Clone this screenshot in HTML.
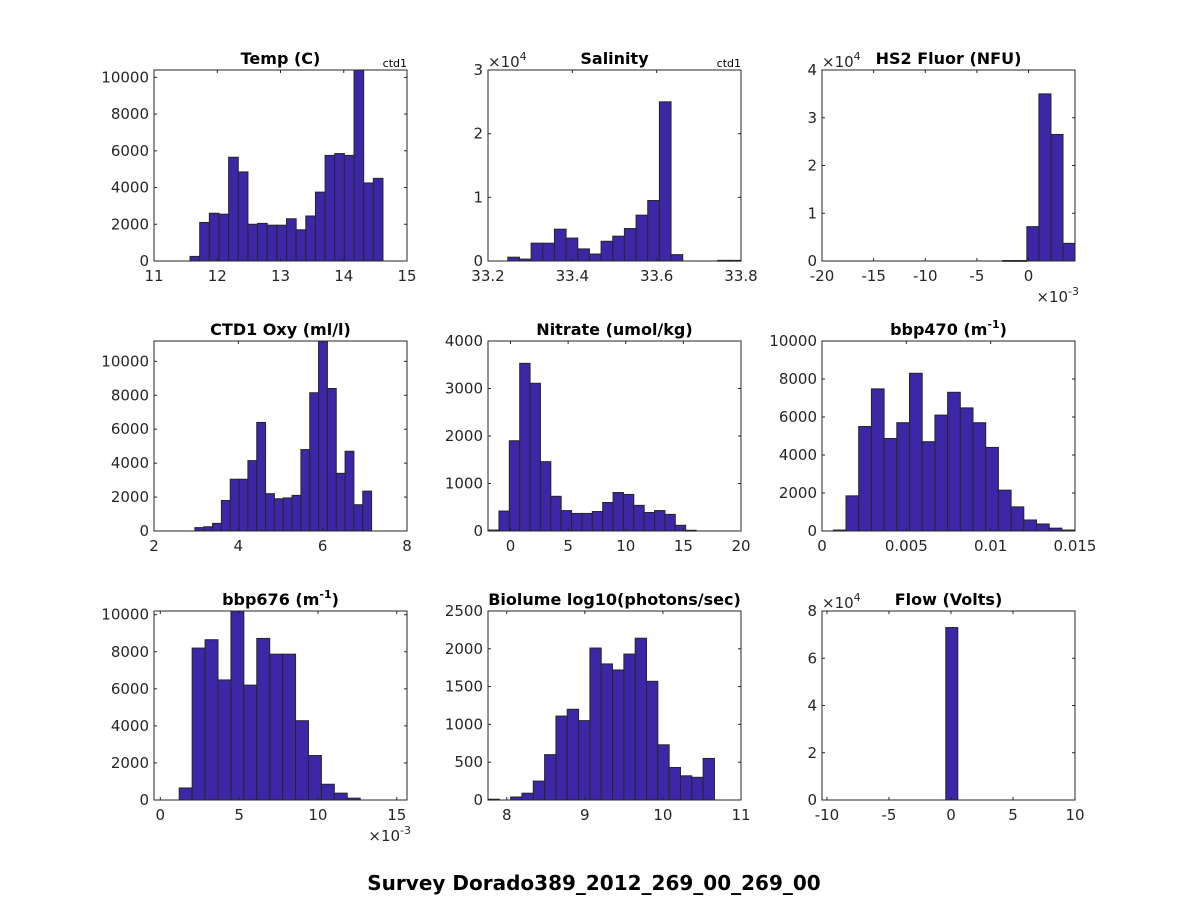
<!DOCTYPE html>
<html><head><meta charset="utf-8">
<style>
html,body{margin:0;padding:0;background:#fff;}
svg{display:block;font-family:"DejaVu Sans","Liberation Sans",sans-serif;}
</style></head>
<body>
<svg id="fig" width="1188" height="900" viewBox="0 0 1188 900">
<text x="594" y="890" text-anchor="middle" font-size="20" font-weight="bold" fill="#000">Survey Dorado389_2012_269_00_269_00</text>
</svg>
<script>
// ---- data arrays ----
const tempStart = 11.57, tempWidth = 0.1525;
const tempCounts = [250,2100,2600,2550,5650,4850,2000,2050,1950,1950,2300,1700,2450,3750,5750,5850,5750,10400,4250,4500];
const tempXTicks = [11,12,13,14,15];
const tempYTicks = [0,2000,4000,6000,8000,10000];

const salStart = 33.247, salWidth = 0.02765;
const salCounts = [600,300,2800,2800,5000,3600,1900,1100,3100,3900,5100,7200,9500,25000,1000,0,0,0,100,100];
const salXTicks = [33.2,33.4,33.6,33.8];
const salYTicks = [0,10000,20000,30000];
const salYLabels = ["0","1","2","3"];

const fluorStart = -2.5, fluorWidth = 1.168;
const fluorCounts = [100,100,7200,35000,26500,3700];
const fluorXTicks = [-20,-15,-10,-5,0];
const fluorYTicks = [0,10000,20000,30000,40000];
const fluorYLabels = ["0","1","2","3","4"];

const oxyStart = 2.97, oxyWidth = 0.2095;
const oxyCounts = [200,250,450,1800,3050,3050,4150,6400,2200,1900,1950,2100,4800,8150,11200,8400,3400,4700,1550,2350];
const oxyXTicks = [2,4,6,8];
const oxyYTicks = [0,2000,4000,6000,8000,10000];

const nitStart = -1.9, nitWidth = 0.9;
const nitCounts = [20,420,1900,3530,3110,1460,730,430,370,370,410,600,810,770,540,390,430,350,120,15];
const nitXTicks = [0,5,10,15,20];
const nitYTicks = [0,1000,2000,3000,4000];

const b470Start = 0.00067, b470Width = 0.000753;
const b470Counts = [50,1850,5500,7480,4870,5700,8300,4700,6100,7300,6480,5700,4400,2150,1270,580,370,150,50];
const b470XTicks = [0,0.005,0.01,0.015];
const b470XLabels = ["0","0.005","0.01","0.015"];
const b470YTicks = [0,2000,4000,6000,8000,10000];

const b676Start = 1.2, b676Width = 0.82;
const b676Counts = [650,8200,8650,6480,10200,6200,8720,7870,7870,4280,2400,850,370,100];
const b676XTicks = [0,5,10,15];
const b676YTicks = [0,2000,4000,6000,8000,10000];

const bioStart = 7.76, bioWidth = 0.145;
const bioCounts = [10,0,40,90,250,600,1110,1200,1050,2010,1800,1720,1930,2140,1570,730,430,320,300,550];
const bioXTicks = [8,9,10,11];
const bioYTicks = [0,500,1000,1500,2000,2500];

const flowStart = -0.42, flowWidth = 0.97;
const flowCounts = [73000];
const flowXTicks = [-10,-5,0,5,10];
const flowYTicks = [0,20000,40000,60000,80000];
const flowYLabels = ["0","2","4","6","8"];

// ---- layout ----
const cols = [[154,407],[488,741],[822,1075]];
const rows = [[70,261],[341,531],[611,800]];
const NS = "http://www.w3.org/2000/svg";
const svg = document.getElementById('fig');

function mk(tag, attrs, parent){
  const e = document.createElementNS(NS, tag);
  for (const k in attrs) e.setAttribute(k, attrs[k]);
  (parent||svg).appendChild(e);
  return e;
}

function panel(o){
  const [x0,x1] = cols[o.c], [y0,y1] = rows[o.r];
  const g = mk('g', {});
  
  
  const sx = v => x0 + (v - o.xlim[0]) / (o.xlim[1]-o.xlim[0]) * (x1-x0);
  const sy = v => y1 - (v - o.ylim[0]) / (o.ylim[1]-o.ylim[0]) * (y1-y0);
  o.counts.forEach((c,i)=>{
    if (c <= 0) return;
    const a = o.start + i*o.width, b = a + o.width;
    const left = Math.max(sx(a), x0), right = Math.min(sx(b), x1);
    const top = Math.max(sy(c), y0);
    const r = mk('rect', {x:left, y:top, width:Math.max(right-left,0), height:Math.max(y1-top,0.8),
      fill:'#3d27a6', stroke:'#262626', 'stroke-width':1}, g);
    
    
  });
  const box = mk('rect', {x:x0, y:y0, width:x1-x0, height:y1-y0, fill:'none', stroke:'#262626', 'stroke-width':1}, g);
  
  
  o.xticks.forEach((t,i)=>{
    const x = sx(t);
    mk('line', {x1:x, x2:x, y1:y1, y2:y1-3, stroke:'#262626'}, g);
    mk('line', {x1:x, x2:x, y1:y0, y2:y0+3, stroke:'#262626'}, g);
    const tx = mk('text', {x:x, y:y1+20, 'text-anchor':'middle', 'font-size':15, fill:'#262626'}, g);
    tx.textContent = o.xlabels ? o.xlabels[i] : String(t);
    
    
  });
  o.yticks.forEach((t,i)=>{
    const y = sy(t);
    mk('line', {x1:x0, x2:x0+3, y1:y, y2:y, stroke:'#262626'}, g);
    mk('line', {x1:x1, x2:x1-3, y1:y, y2:y, stroke:'#262626'}, g);
    const ty = mk('text', {x:x0-5, y:y+5, 'text-anchor':'end', 'font-size':15, fill:'#262626'}, g);
    ty.textContent = o.ylabels ? o.ylabels[i] : String(t);
    
    
  });
  const tt = mk('text', {x:(x0+x1)/2, y:y0-6, 'text-anchor':'middle', 'font-size':16, 'font-weight':'bold', fill:'#000'}, g);
  
  
  if (o.sup) {
    tt.appendChild(document.createTextNode(o.title));
    const s = mk('tspan', {dy:-7, 'font-size':11}, tt); s.textContent = o.sup;
    const e = mk('tspan', {dy:7}, tt); e.textContent = ')';
  } else tt.textContent = o.title;
  if (o.ctd) {
    const c = mk('text', {x:x1, y:y0-3, 'text-anchor':'end', 'font-size':11, fill:'#000'}, g);
    c.textContent = 'ctd1';
    
    
  }
  if (o.yexp) {
    const t = mk('text', {x:x0, y:y0-3, 'font-size':15, fill:'#262626'}, g);
    t.appendChild(document.createTextNode('×10'));
    const s = mk('tspan', {dy:-7, 'font-size':11}, t); s.textContent = o.yexp;
    
    
  }
  if (o.xexp) {
    const t = mk('text', {x:x1+4, y:y1+41, 'text-anchor':'end', 'font-size':15, fill:'#262626'}, g);
    t.appendChild(document.createTextNode('×10'));
    const s = mk('tspan', {dy:-7, 'font-size':11}, t); s.textContent = o.xexp;
    
    
  }
}

panel({name:'temp', r:0, c:0, title:'Temp (C)', ctd:true, xlim:[11,15], ylim:[0,10400], start:tempStart, width:tempWidth, counts:tempCounts, xticks:tempXTicks, yticks:tempYTicks});
panel({name:'salinity', r:0, c:1, title:'Salinity', ctd:true, yexp:'4', xlim:[33.2,33.8], ylim:[0,30000], start:salStart, width:salWidth, counts:salCounts, xticks:salXTicks, yticks:salYTicks, ylabels:salYLabels});
panel({name:'hs2-fluor', r:0, c:2, title:'HS2 Fluor (NFU)', yexp:'4', xexp:'-3', xlim:[-20,4.5], ylim:[0,40000], start:fluorStart, width:fluorWidth, counts:fluorCounts, xticks:fluorXTicks, yticks:fluorYTicks, ylabels:fluorYLabels});
panel({name:'ctd1-oxy', r:1, c:0, title:'CTD1 Oxy (ml/l)', xlim:[2,8], ylim:[0,11200], start:oxyStart, width:oxyWidth, counts:oxyCounts, xticks:oxyXTicks, yticks:oxyYTicks});
panel({name:'nitrate', r:1, c:1, title:'Nitrate (umol/kg)', xlim:[-1.95,20], ylim:[0,4000], start:nitStart, width:nitWidth, counts:nitCounts, xticks:nitXTicks, yticks:nitYTicks});
panel({name:'bbp470', r:1, c:2, title:'bbp470 (m', sup:'-1', xlim:[0,0.015], ylim:[0,10000], start:b470Start, width:b470Width, counts:b470Counts, xticks:b470XTicks, xlabels:b470XLabels, yticks:b470YTicks});
panel({name:'bbp676', r:2, c:0, title:'bbp676 (m', sup:'-1', xexp:'-3', xlim:[-0.4,15.65], ylim:[0,10200], start:b676Start, width:b676Width, counts:b676Counts, xticks:b676XTicks, yticks:b676YTicks});
panel({name:'biolume', r:2, c:1, title:'Biolume log10(photons/sec)', xlim:[7.76,11], ylim:[0,2500], start:bioStart, width:bioWidth, counts:bioCounts, xticks:bioXTicks, yticks:bioYTicks});
panel({name:'flow', r:2, c:2, title:'Flow (Volts)', yexp:'4', xlim:[-10.4,10], ylim:[0,80000], start:flowStart, width:flowWidth, counts:flowCounts, xticks:flowXTicks, yticks:flowYTicks, ylabels:flowYLabels});
</script>
</body></html>
